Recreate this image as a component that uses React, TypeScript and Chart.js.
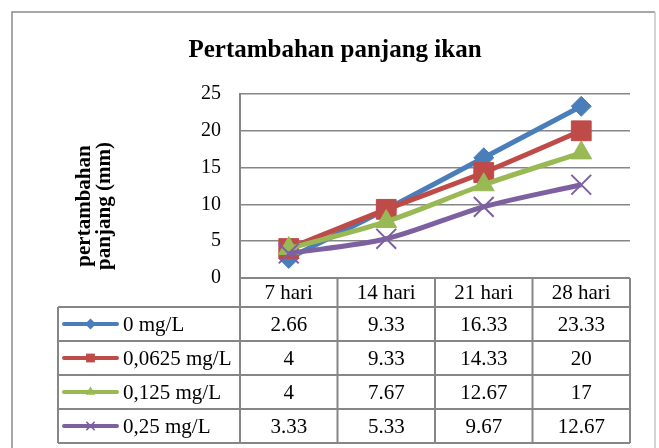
import React, { useEffect, useRef } from "react";
import { Chart, registerables } from "chart.js";

Chart.register(...registerables);

const categories = ["7 hari", "14 hari", "21 hari", "28 hari"];
const seriesLabels = ["0 mg/L", "0,0625 mg/L", "0,125 mg/L", "0,25 mg/L"];
const values0 = [2.66, 9.33, 16.33, 23.33];
const values1 = [4, 9.33, 14.33, 20];
const values2 = [4, 7.67, 12.67, 17];
const values3 = [3.33, 5.33, 9.67, 12.67];
const yMin = 0;
const yMax = 25;
const yStep = 5;
const chartTitle = "Pertambahan panjang ikan";
const yAxisTitle = ["pertambahan", "panjang (mm)"];

const seriesValues = [values0, values1, values2, values3];
const colors = ["#4A7EBB", "#BE4B48", "#98B954", "#7D60A0"];
const pointStyles = ["rectRot", "rect", "triangle", "crossRot"];
const pointRadii = [10, 14, 12, 14];

const SERIF = '"Liberation Serif", "Times New Roman", serif';
const GRID = "#868686";

function drawMarker(ctx: CanvasRenderingContext2D, style: string, cx: number, cy: number, r: number, color: string) {
  ctx.save();
  ctx.fillStyle = color;
  ctx.strokeStyle = color;
  ctx.beginPath();
  if (style === "rectRot") {
    ctx.moveTo(cx, cy - r);
    ctx.lineTo(cx + r, cy);
    ctx.lineTo(cx, cy + r);
    ctx.lineTo(cx - r, cy);
    ctx.closePath();
    ctx.fill();
  } else if (style === "rect") {
    ctx.rect(cx - r * 0.8, cy - r * 0.8, r * 1.6, r * 1.6);
    ctx.fill();
  } else if (style === "triangle") {
    ctx.moveTo(cx, cy - r);
    ctx.lineTo(cx + r * 0.87, cy + r * 0.5);
    ctx.lineTo(cx - r * 0.87, cy + r * 0.5);
    ctx.closePath();
    ctx.fill();
  } else {
    const d = r * 0.75;
    ctx.lineWidth = 1.5;
    ctx.moveTo(cx - d, cy - d);
    ctx.lineTo(cx + d, cy + d);
    ctx.moveTo(cx + d, cy - d);
    ctx.lineTo(cx - d, cy + d);
    ctx.stroke();
  }
  ctx.restore();
}

const decorPlugin = {
  id: "decor",
  beforeDraw(chart: any) {
    const ctx: CanvasRenderingContext2D = chart.ctx;
    ctx.save();
    ctx.fillStyle = "#ffffff";
    ctx.fillRect(0, 0, chart.width, chart.height);
    ctx.restore();
  },
  afterDraw(chart: any) {
    const ctx: CanvasRenderingContext2D = chart.ctx;
    const area = chart.chartArea;
    const xs = chart.scales.x;
    ctx.save();

    // outer border
    ctx.lineWidth = 1.5;
    ctx.strokeStyle = "#8a8a8a";
    ctx.beginPath();
    ctx.moveTo(12, chart.height + 5);
    ctx.lineTo(12, 12);
    ctx.lineTo(655, 12);
    ctx.stroke();
    ctx.strokeStyle = "#c4c4c4";
    ctx.beginPath();
    ctx.moveTo(655, 12);
    ctx.lineTo(655, chart.height + 5);
    ctx.stroke();

    // title
    ctx.fillStyle = "#000";
    ctx.font = `bold 25px ${SERIF}`;
    ctx.textAlign = "center";
    ctx.textBaseline = "alphabetic";
    ctx.fillText(chartTitle, 335, 57);

    // y axis title
    ctx.save();
    ctx.translate(0, 206);
    ctx.rotate(-Math.PI / 2);
    ctx.font = `bold 21px ${SERIF}`;
    ctx.textAlign = "center";
    ctx.textBaseline = "alphabetic";
    ctx.fillText(yAxisTitle[0], 0, 90);
    ctx.fillText(yAxisTitle[1], 0, 110);
    ctx.restore();

    // data table
    const top = area.bottom;
    const headerH = 29;
    const rowH = 34;
    const tableLeft = 58;
    const nRows = seriesLabels.length;
    const bottom = top + headerH + rowH * nRows;
    const colEdges: number[] = [area.left];
    for (let i = 0; i < categories.length - 1; i++) {
      colEdges.push((xs.getPixelForValue(i) + xs.getPixelForValue(i + 1)) / 2);
    }
    colEdges.push(area.right);

    ctx.strokeStyle = GRID;
    ctx.lineWidth = 2;
    ctx.beginPath();
    ctx.moveTo(area.left, top);
    ctx.lineTo(area.right, top);
    for (let r = 0; r <= nRows; r++) {
      const y = top + headerH + r * rowH;
      ctx.moveTo(tableLeft, y);
      ctx.lineTo(area.right, y);
    }
    ctx.moveTo(tableLeft, top + headerH);
    ctx.lineTo(tableLeft, bottom);
    colEdges.forEach((x) => {
      ctx.moveTo(x, top);
      ctx.lineTo(x, bottom);
    });
    ctx.stroke();

    ctx.font = `21px ${SERIF}`;
    ctx.fillStyle = "#000";
    ctx.textBaseline = "middle";
    ctx.textAlign = "center";
    // header: category labels at the x scale's positions
    categories.forEach((c, i) => {
      ctx.fillText(c, xs.getPixelForValue(i), top + headerH / 2 + 1);
    });
    for (let r = 0; r < nRows; r++) {
      const cy = top + headerH + r * rowH + rowH / 2;
      // legend key
      ctx.save();
      ctx.strokeStyle = colors[r];
      ctx.lineWidth = 4;
      ctx.lineCap = "round";
      ctx.beginPath();
      ctx.moveTo(64, cy);
      ctx.lineTo(117, cy);
      ctx.stroke();
      ctx.restore();
      drawMarker(ctx, pointStyles[r], 90.5, cy, 5.5, colors[r]);
      ctx.textAlign = "left";
      ctx.fillStyle = "#000";
      ctx.fillText(seriesLabels[r], 123, cy + 1);
      ctx.textAlign = "center";
      seriesValues[r].forEach((v, i) => {
        ctx.fillText(String(v), xs.getPixelForValue(i), cy + 1);
      });
    }
    ctx.restore();
  },
};

export default function App() {
  const ref = useRef<HTMLCanvasElement | null>(null);
  useEffect(() => {
    if (!ref.current) return;
    const chart = new Chart(ref.current, {
      type: "line",
      data: {
        labels: categories,
        datasets: seriesLabels.map((label, i) => ({
          label,
          data: seriesValues[i],
          borderColor: colors[i],
          backgroundColor: colors[i],
          borderWidth: 5,
          pointStyle: pointStyles[i] as any,
          pointRadius: pointRadii[i],
          pointBorderWidth: i === 3 ? 2 : 1,
          pointBackgroundColor: colors[i],
          pointBorderColor: colors[i],
          tension: 0.3,
          order: 3 - i,
          clip: false as any,
        })),
      },
      options: {
        responsive: false,
        animation: false,
        devicePixelRatio: 1,
        events: [],
        layout: { padding: { left: 0, top: 94, right: 29, bottom: 170 } },
        plugins: {
          legend: { display: false },
          title: { display: false },
          tooltip: { enabled: false },
        },
        scales: {
          x: {
            type: "category",
            offset: true,
            grid: { display: false, drawTicks: false },
            border: { display: false },
            ticks: { display: false },
            afterFit: (s: any) => {
              s.height = 0;
            },
          },
          y: {
            min: yMin,
            max: yMax,
            ticks: { stepSize: yStep, font: { family: SERIF, size: 20 }, color: "#000", padding: 19 },
            grid: { color: GRID, lineWidth: 1.5, drawTicks: false },
            border: { display: true, color: GRID, width: 2 },
            afterFit: (s: any) => {
              s.width = 240;
            },
          },
        },
      },
      plugins: [decorPlugin],
    });
    return () => chart.destroy();
  }, []);
  return (
    <div style={{ position: "absolute", left: 0, top: 0, width: 659, height: 448, background: "#fff" }}>
      <canvas ref={ref} width={659} height={448} style={{ width: 659, height: 448, display: "block" }} />
    </div>
  );
}
